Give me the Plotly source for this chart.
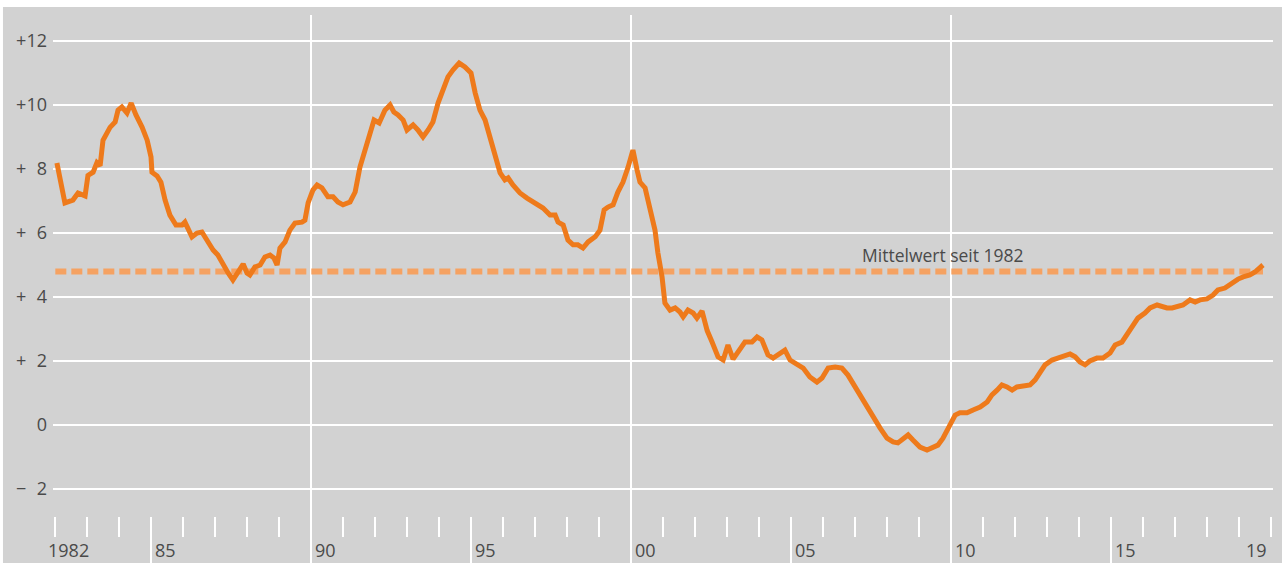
import plotly.graph_objects as go

# ---- data ----
years = [1982.06, 1982.31, 1982.56, 1982.72, 1982.94, 1983.03, 1983.19, 1983.31, 1983.41, 1983.50,
         1983.72, 1983.88, 1983.97, 1984.09, 1984.25, 1984.38, 1984.53, 1984.72, 1984.88, 1985.00,
         1985.03, 1985.19, 1985.31, 1985.44, 1985.59, 1985.78, 1985.97, 1986.06, 1986.28, 1986.44,
         1986.59, 1986.75, 1986.94, 1987.09, 1987.25, 1987.41, 1987.56, 1987.72, 1987.88, 1988.00,
         1988.09, 1988.25, 1988.41, 1988.56, 1988.72, 1988.84, 1988.94, 1989.03, 1989.19, 1989.34,
         1989.50, 1989.72, 1989.81, 1989.91, 1990.06, 1990.19, 1990.34, 1990.53, 1990.69, 1990.84,
         1991.00, 1991.22, 1991.38, 1991.53, 1991.75, 1991.97, 1992.13, 1992.31, 1992.47, 1992.59,
         1992.72, 1992.88, 1993.00, 1993.19, 1993.34, 1993.50, 1993.66, 1993.81, 1993.97, 1994.13,
         1994.28, 1994.44, 1994.63, 1994.81, 1995.00, 1995.13, 1995.28, 1995.44, 1995.59, 1995.75,
         1995.91, 1996.06, 1996.16, 1996.31, 1996.53, 1996.75, 1996.94, 1997.06, 1997.25, 1997.47,
         1997.63, 1997.72, 1997.88, 1998.03, 1998.19, 1998.34, 1998.50, 1998.66, 1998.88, 1999.03,
         1999.16, 1999.28, 1999.44, 1999.59, 1999.75, 1999.91, 2000.06, 2000.19, 2000.28, 2000.44,
         2000.59, 2000.75, 2000.84, 2000.97, 2001.06, 2001.22, 2001.38, 2001.53, 2001.63, 2001.78,
         2001.94, 2002.06, 2002.22, 2002.38, 2002.53, 2002.72, 2002.88, 2003.03, 2003.19, 2003.41,
         2003.56, 2003.78, 2003.94, 2004.09, 2004.16, 2004.28, 2004.44, 2004.66, 2004.81, 2004.97,
         2005.19, 2005.38, 2005.59, 2005.81, 2005.97, 2006.16, 2006.38, 2006.59, 2006.78, 2007.00,
         2007.22, 2007.41, 2007.56, 2007.78, 2008.00, 2008.19, 2008.34, 2008.50, 2008.66, 2008.81,
         2009.03, 2009.25, 2009.41, 2009.59, 2009.75, 2009.97, 2010.13, 2010.28, 2010.50, 2010.69,
         2010.91, 2011.13, 2011.28, 2011.44, 2011.59, 2011.75, 2011.91, 2012.06, 2012.25, 2012.47,
         2012.63, 2012.78, 2012.94, 2013.16, 2013.34, 2013.56, 2013.72, 2013.88, 2014.03, 2014.19,
         2014.34, 2014.56, 2014.75, 2014.97, 2015.13, 2015.34, 2015.50, 2015.66, 2015.84, 2016.06,
         2016.22, 2016.44, 2016.59, 2016.75, 2016.91, 2017.06, 2017.25, 2017.47, 2017.63, 2017.78,
         2018.00, 2018.19, 2018.34, 2018.56, 2018.78, 2018.97, 2019.13, 2019.34, 2019.50, 2019.66,
         2019.75]
values = [8.19, 6.94, 7.03, 7.25, 7.16, 7.80, 7.90, 8.20, 8.10, 8.90,
          9.30, 9.47, 9.84, 9.94, 9.75, 10.06, 9.69, 9.31, 8.90, 8.38,
          7.90, 7.78, 7.59, 7.03, 6.56, 6.25, 6.25, 6.34, 5.88, 6.00,
          6.03, 5.78, 5.47, 5.31, 5.00, 4.75, 4.53, 4.78, 5.03, 4.75,
          4.69, 4.94, 5.00, 5.25, 5.31, 5.22, 5.00, 5.53, 5.72, 6.09,
          6.31, 6.34, 6.40, 6.94, 7.34, 7.50, 7.41, 7.13, 7.13, 6.97,
          6.88, 6.97, 7.28, 8.06, 8.81, 9.53, 9.44, 9.84, 10.00, 9.78,
          9.69, 9.53, 9.22, 9.38, 9.22, 9.00, 9.22, 9.47, 10.06, 10.47,
          10.88, 11.10, 11.31, 11.19, 11.00, 10.38, 9.84, 9.53, 9.00, 8.38,
          7.88, 7.66, 7.72, 7.50, 7.25, 7.09, 6.97, 6.94, 6.78, 6.56,
          6.56, 6.34, 6.25, 5.78, 5.63, 5.63, 5.53, 5.72, 5.88, 6.09,
          6.72, 6.81, 6.88, 7.28, 7.59, 8.06, 8.59, 7.97, 7.59, 7.41,
          6.72, 6.09, 5.38, 4.63, 3.81, 3.59, 3.66, 3.53, 3.38, 3.59,
          3.50, 3.34, 3.56, 2.95, 2.60, 2.13, 2.03, 2.50, 2.06, 2.40,
          2.59, 2.59, 2.75, 2.66, 2.50, 2.19, 2.09, 2.25, 2.34, 2.03,
          1.88, 1.78, 1.50, 1.34, 1.47, 1.78, 1.81, 1.78, 1.56, 1.19,
          0.78, 0.47, 0.25, -0.09, -0.41, -0.53, -0.56, -0.41, -0.31, -0.47,
          -0.69, -0.78, -0.69, -0.63, -0.41, 0.06, 0.31, 0.38, 0.38, 0.47,
          0.56, 0.72, 0.94, 1.09, 1.25, 1.19, 1.09, 1.19, 1.22, 1.25,
          1.41, 1.66, 1.88, 2.03, 2.09, 2.19, 2.22, 2.13, 1.97, 1.88,
          2.00, 2.09, 2.09, 2.25, 2.50, 2.59, 2.81, 3.06, 3.34, 3.50,
          3.66, 3.75, 3.69, 3.66, 3.66, 3.69, 3.75, 3.91, 3.84, 3.91,
          3.94, 4.06, 4.22, 4.28, 4.44, 4.56, 4.63, 4.69, 4.78, 4.91,
          5.00]

mean_value = 4.8
mean_label = "Mittelwert seit 1982"

y_tickvals = [12, 10, 8, 6, 4, 2, 0, -2]
y_ticktext = ["+12", "+10", "+\u20078", "+\u20076", "+\u20074", "+\u20072", "0", "\u2212\u20072"]

tick_years = list(range(1982, 2021))
major_years = [1985, 1990, 1995, 2000, 2005, 2010, 2015]
grid_years = [1990, 2000, 2010]
x_label_years = [1982, 1985, 1990, 1995, 2000, 2005, 2010, 2015]
x_label_text = ["1982", "85", "90", "95", "00", "05", "10", "15"]
last_label_year = 2020
last_label_text = "19"

# ---- styling ----
BG = "#d2d2d2"
ORANGE = "#ee7a1b"
MEAN_COLOR = "#f5a262"
TEXT = "#4a4a4a"
FONT = "Open Sans"

x_min, x_max = 1981.9375, 2020.0625
y_min, y_max = -4.3125, 12.8125

fig = go.Figure()

fig.add_trace(go.Scatter(
    x=[years[0] - 0.05, years[-1]], y=[mean_value, mean_value],
    mode="lines", line=dict(color=MEAN_COLOR, width=6, dash="11px,5px"),
    hoverinfo="skip", showlegend=False))

fig.add_trace(go.Scatter(
    x=years, y=values, mode="lines",
    line=dict(color=ORANGE, width=5, shape="linear"),
    showlegend=False))

shapes = []
# gray panel behind everything
shapes.append(dict(type="rect", xref="paper", yref="paper",
                   x0=-0.041, x1=1.01, y0=-0.01, y1=1.0146,
                   fillcolor=BG, line=dict(width=0), layer="below"))
# year ticks
for yr in tick_years:
    y_bottom = y_min if yr in major_years else -3.5
    shapes.append(dict(type="line", xref="x", yref="y", x0=yr, x1=yr,
                       y0=-2.875, y1=y_bottom,
                       line=dict(color="white", width=2), layer="below"))

annotations = []
for yr, txt in zip(x_label_years, x_label_text):
    annotations.append(dict(x=yr, y=y_min, xref="x", yref="y", text=txt,
                            showarrow=False, xanchor="left", yanchor="bottom",
                            xshift=(-8 if yr == 1982 else 3), borderpad=0,
                            font=dict(family=FONT, size=18, color=TEXT)))
annotations.append(dict(x=last_label_year, y=y_min, xref="x", yref="y",
                        text=last_label_text, showarrow=False, xanchor="right",
                        yanchor="bottom", xshift=-3, borderpad=0,
                        font=dict(family=FONT, size=18, color=TEXT)))
annotations.append(dict(x=2007.15, y=mean_value + 0.5, xref="x", yref="y",
                        text=mean_label, showarrow=False, xanchor="left",
                        yanchor="middle",
                        font=dict(family=FONT, size=17.5, color=TEXT)))

fig.update_layout(
    width=1282, height=563,
    margin=dict(l=53, r=9, t=15, b=0),
    paper_bgcolor="white", plot_bgcolor=BG,
    shapes=shapes, annotations=annotations,
    font=dict(family=FONT, size=18, color=TEXT),
    xaxis=dict(range=[x_min, x_max], tickvals=grid_years, showticklabels=False,
               showgrid=True, gridcolor="white", gridwidth=2, zeroline=False,
               showline=False, ticks=""),
    yaxis=dict(range=[y_min, y_max], tickvals=y_tickvals, ticktext=y_ticktext,
               showgrid=True, gridcolor="white", gridwidth=2, zeroline=False,
               showline=False, ticks="", ticklabelstandoff=5,
               tickfont=dict(family=FONT, size=18, color=TEXT)),
    hovermode=False,
)

fig.write_html("out.html")
